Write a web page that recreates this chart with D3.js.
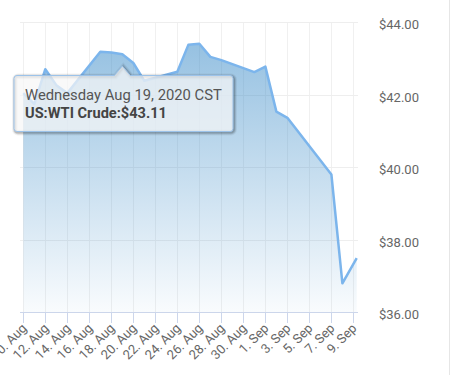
<!DOCTYPE html>
<html>
<head>
<meta charset="utf-8">
<script src="https://cdn.jsdelivr.net/npm/d3@7"></script>
<style>
  body { margin: 0; background: #fff; }
  svg { display: block; font-family: Roboto, "Open Sans", sans-serif; }
</style>
</head>
<body>
<svg id="chart" width="454" height="375"></svg>
<script>
// WTI crude daily prices
const dates = ["2020-08-10", "2020-08-11", "2020-08-12", "2020-08-13", "2020-08-14",
    "2020-08-17", "2020-08-18", "2020-08-19", "2020-08-20", "2020-08-21",
    "2020-08-24", "2020-08-25", "2020-08-26", "2020-08-27", "2020-08-28",
    "2020-08-31", "2020-09-01", "2020-09-02", "2020-09-03",
    "2020-09-07", "2020-09-08", "2020-09-09T07:12"];
const prices = [42.04, 41.74, 42.70, 42.26, 42.04,
    43.18, 43.16, 43.11, 42.87, 42.38,
    42.63, 43.37, 43.40, 43.04, 42.95,
    42.62, 42.77, 41.53, 41.36,
    39.80, 36.80, 37.49];
const xTickDates = ["2020-08-10", "2020-08-12", "2020-08-14", "2020-08-16", "2020-08-18",
    "2020-08-20", "2020-08-22", "2020-08-24", "2020-08-26", "2020-08-28", "2020-08-30",
    "2020-09-01", "2020-09-03", "2020-09-05", "2020-09-07", "2020-09-09"];
const yTicks = [36, 38, 40, 42, 44];
const tooltipLines = ["Wednesday Aug 19, 2020 CST", "US:WTI Crude:$43.11"];
const tooltipIndex = 7;

const parse = (s) => new Date(s + (s.length > 10 ? ":00Z" : "T00:00:00Z"));
const data = dates.map((d, i) => ({ date: parse(d), value: prices[i] }));

const svg = d3.select('#chart');
const plot = { left: 20, right: 358, top: 22, bottom: 312.3 };

const x = d3.scaleUtc()
    .domain(d3.extent(data, (d) => d.date))
    .range([23.3, 356.7]);
const y = d3.scaleLinear()
    .domain([36, 44])
    .range([plot.bottom, plot.top]);

// gradient for the area
const grad = svg.append('defs').append('linearGradient')
    .attr('id', 'fillGrad')
    .attr('gradientUnits', 'userSpaceOnUse')
    .attr('x1', 0).attr('x2', 0)
    .attr('y1', plot.top).attr('y2', plot.bottom);
grad.append('stop').attr('offset', 0).attr('stop-color', 'rgb(60,140,200)').attr('stop-opacity', 0.58);
grad.append('stop').attr('offset', 1).attr('stop-color', 'rgb(60,140,200)').attr('stop-opacity', 0.03);

// container border on the right
svg.append('line')
    .attr('x1', 449.5).attr('x2', 449.5).attr('y1', 0).attr('y2', 375)
    .attr('stroke', '#e6e6e6');

// grid
const xTicks = xTickDates.map(parse);
svg.append('g')
    .selectAll('line')
    .data(xTicks)
    .join('line')
    .attr('x1', (d) => Math.round(x(d)) + 0.5)
    .attr('x2', (d) => Math.round(x(d)) + 0.5)
    .attr('y1', plot.top).attr('y2', plot.bottom)
    .attr('stroke', '#f0f0f0');
svg.append('g')
    .selectAll('line')
    .data(yTicks)
    .join('line')
    .attr('x1', plot.left).attr('x2', plot.right)
    .attr('y1', (d) => Math.round(y(d)) + 0.5)
    .attr('y2', (d) => Math.round(y(d)) + 0.5)
    .attr('stroke', '#eeeeee');

// area + line
svg.append('path')
    .datum(data)
    .attr('fill', 'url(#fillGrad)')
    .attr('d', d3.area().x((d) => x(d.date)).y0(plot.bottom).y1((d) => y(d.value)));
svg.append('path')
    .datum(data)
    .attr('fill', 'none')
    .attr('stroke', '#7cb5ec')
    .attr('stroke-width', 2.5)
    .attr('stroke-linejoin', 'round')
    .attr('d', d3.line().x((d) => x(d.date)).y((d) => y(d.value)));

// x axis
const xAxis = svg.append('g');
xAxis.append('line')
    .attr('x1', plot.left).attr('x2', plot.right)
    .attr('y1', 312.5).attr('y2', 312.5)
    .attr('stroke', '#ccd6eb');
const fmt = d3.utcFormat('%-d. %b');
const xt = xAxis.selectAll('g.tick')
    .data(xTicks)
    .join('g')
    .attr('transform', (d) => 'translate(' + (Math.round(x(d)) + 0.5) + ',0)');
xt.append('line')
    .attr('y1', 312.5).attr('y2', 323)
    .attr('stroke', '#ccd6eb');
xt.append('text')
    .attr('transform', 'translate(4,329) rotate(-45)')
    .attr('text-anchor', 'end')
    .attr('font-size', 13)
    .attr('fill', '#666')
    .text((d) => fmt(d));

// y axis labels (right)
svg.append('g')
    .selectAll('text')
    .data(yTicks)
    .join('text')
    .attr('x', 379)
    .attr('y', (d) => y(d) + 7)
    .attr('font-size', 13)
    .attr('fill', '#666')
    .text((d) => '$' + d.toFixed(2));

// tooltip callout
const tipX = x(data[tooltipIndex].date);
const box = { x: 14, y: 75.5, w: 219, h: 56, r: 3 };
const anchorY = 66;
function callout(b) {
    const p = d3.path();
    p.moveTo(b.x + b.r, b.y);
    p.lineTo(tipX - 8, b.y);
    p.lineTo(tipX, anchorY);
    p.lineTo(tipX + 8, b.y);
    p.lineTo(b.x + b.w - b.r, b.y);
    p.arcTo(b.x + b.w, b.y, b.x + b.w, b.y + b.r, b.r);
    p.lineTo(b.x + b.w, b.y + b.h - b.r);
    p.arcTo(b.x + b.w, b.y + b.h, b.x + b.w - b.r, b.y + b.h, b.r);
    p.lineTo(b.x + b.r, b.y + b.h);
    p.arcTo(b.x, b.y + b.h, b.x, b.y + b.h - b.r, b.r);
    p.lineTo(b.x, b.y + b.r);
    p.arcTo(b.x, b.y, b.x + b.r, b.y, b.r);
    p.closePath();
    return p.toString();
}
const tip = svg.append('g');
[3, 2, 1].forEach((w) => {
    tip.append('path')
        .attr('d', callout(box))
        .attr('transform', 'translate(1,1)')
        .attr('fill', 'none')
        .attr('stroke', 'rgba(0,0,0,' + (0.05 * (4 - w)) + ')')
        .attr('stroke-width', w * 2);
});
tip.append('path')
    .attr('d', callout(box))
    .attr('fill', 'rgba(247,247,247,0.72)')
    .attr('stroke', '#9cc3ea')
    .attr('stroke-width', 1);
tip.append('text')
    .attr('x', 25).attr('y', 100.3)
    .attr('font-size', 14.8)
    .attr('fill', '#555')
    .text(tooltipLines[0]);
tip.append('text')
    .attr('x', 25).attr('y', 118)
    .attr('font-size', 15.5)
    .attr('font-weight', 'bold')
    .attr('textLength', 142)
    .attr('lengthAdjust', 'spacingAndGlyphs')
    .attr('fill', '#444')
    .text(tooltipLines[1]);
</script>
</body>
</html>
